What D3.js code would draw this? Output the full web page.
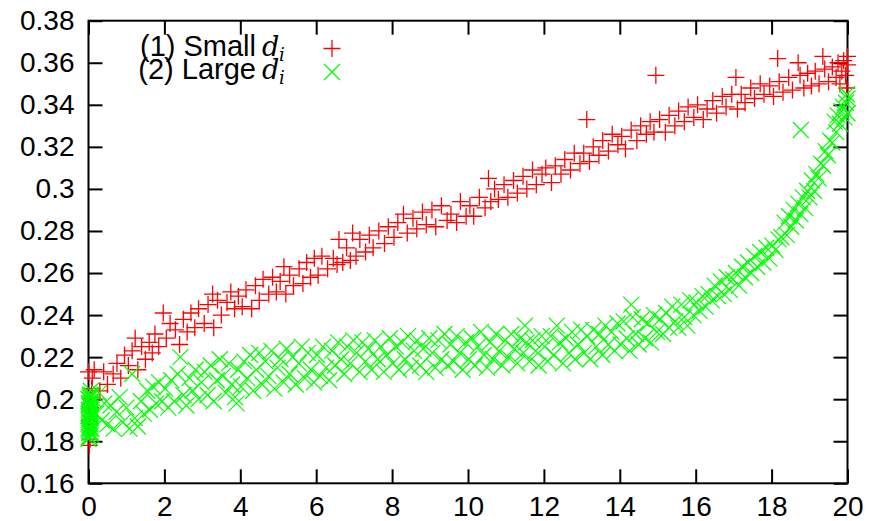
<!DOCTYPE html>
<html>
<head>
<meta charset="utf-8">
<script src="https://cdn.jsdelivr.net/npm/d3@7"></script>
<style>
  body { margin: 0; background: #fff; }
  svg text { font-family: "Liberation Sans", Arial, Helvetica, sans-serif; }
</style>
</head>
<body>
<div id="chart"></div>
<script>
var xTicks = [0, 2, 4, 6, 8, 10, 12, 14, 16, 18, 20]
var yTicks = [0.16, 0.18, 0.2, 0.22, 0.24, 0.26, 0.28, 0.3, 0.32, 0.34, 0.36, 0.38]
var yTickLabels = ["0.16", "0.18", "0.2", "0.22", "0.24", "0.26", "0.28", "0.3", "0.32", "0.34", "0.36", "0.38"]
var seriesNames = ["(1) Small", "(2) Large"]

// (1) small d_i  -- [x, y]
var smallD = [
  [0, 0.213], [0.02, 0.178], [0.04, 0.181], [0.03, 0.19], [0.05, 0.196], [0.06, 0.2], [0.08, 0.205], [0.1, 0.21],
  [0.15, 0.214], [0.3, 0.204], [0.4, 0.213], [0.5, 0.207], [0.65, 0.212], [0.75, 0.217], [0.85, 0.21], [0.95, 0.221],
  [1.05, 0.216], [1.15, 0.223], [1.23, 0.229], [1.3, 0.214], [1.4, 0.225], [1.5, 0.219], [1.6, 0.227], [1.68, 0.222], [1.75, 0.231], [1.85, 0.225], [1.97, 0.241],
  [2.05, 0.229], [2.15, 0.236], [2.29, 0.233], [2.4, 0.226], [2.5, 0.238], [2.6, 0.232], [2.7, 0.241], [2.8, 0.234], [2.9, 0.243],
  [3.05, 0.236], [3.15, 0.245], [3.27, 0.25], [3.3, 0.234], [3.4, 0.247], [3.5, 0.24], [3.65, 0.246], [3.75, 0.251], [3.85, 0.243], [3.95, 0.249],
  [4.05, 0.244], [4.15, 0.252], [4.3, 0.243], [4.4, 0.254], [4.5, 0.247], [4.6, 0.257], [4.75, 0.25], [4.85, 0.258], [4.95, 0.251],
  [5.05, 0.256], [5.15, 0.263], [5.2, 0.25], [5.3, 0.259], [5.4, 0.254], [5.55, 0.262], [5.65, 0.255], [5.75, 0.265], [5.85, 0.258], [5.95, 0.267],
  [6.05, 0.259], [6.15, 0.268], [6.3, 0.262], [6.45, 0.267], [6.55, 0.264], [6.6, 0.276], [6.7, 0.265], [6.8, 0.272], [6.9, 0.266], [6.96, 0.279],
  [7.05, 0.268], [7.15, 0.276], [7.3, 0.27], [7.4, 0.278], [7.5, 0.272], [7.65, 0.28], [7.8, 0.274], [7.9, 0.282],
  [8.05, 0.277], [8.15, 0.284], [8.3, 0.288], [8.4, 0.279], [8.55, 0.286], [8.65, 0.281], [8.8, 0.289], [8.9, 0.283],
  [9.05, 0.29], [9.15, 0.282], [9.3, 0.292], [9.45, 0.285], [9.55, 0.288], [9.7, 0.284], [9.8, 0.294], [9.95, 0.287],
  [10.05, 0.292], [10.15, 0.287], [10.3, 0.296], [10.45, 0.291], [10.54, 0.305], [10.6, 0.294], [10.7, 0.3], [10.8, 0.295], [10.95, 0.302],
  [11.05, 0.296], [11.2, 0.304], [11.3, 0.298], [11.45, 0.306], [11.55, 0.3], [11.7, 0.309], [11.8, 0.302], [11.95, 0.307],
  [12.05, 0.31], [12.2, 0.303], [12.3, 0.311], [12.45, 0.307], [12.55, 0.314], [12.7, 0.309], [12.8, 0.317], [12.95, 0.312],
  [13.05, 0.317], [13.13, 0.333], [13.2, 0.313], [13.3, 0.32], [13.45, 0.316], [13.55, 0.323], [13.7, 0.318], [13.8, 0.326], [13.95, 0.321],
  [14.05, 0.325], [14.15, 0.319], [14.3, 0.328], [14.45, 0.323], [14.55, 0.33], [14.7, 0.326], [14.8, 0.332], [14.9, 0.327], [14.95, 0.354],
  [15.05, 0.333], [15.2, 0.327], [15.3, 0.335], [15.45, 0.33], [15.55, 0.337], [15.7, 0.332], [15.8, 0.339], [15.95, 0.334],
  [16.05, 0.34], [16.2, 0.333], [16.3, 0.338], [16.45, 0.342], [16.55, 0.336], [16.7, 0.344], [16.8, 0.339], [16.95, 0.345], [17.06, 0.353],
  [17.1, 0.338], [17.2, 0.345], [17.3, 0.341], [17.45, 0.348], [17.55, 0.343], [17.7, 0.35], [17.8, 0.345], [17.95, 0.349],
  [18.05, 0.344], [18.16, 0.362], [18.2, 0.351], [18.3, 0.346], [18.45, 0.353], [18.55, 0.347], [18.7, 0.36], [18.75, 0.354], [18.85, 0.348], [18.95, 0.355],
  [19.05, 0.349], [19.15, 0.356], [19.25, 0.35], [19.35, 0.363], [19.4, 0.357], [19.5, 0.351], [19.6, 0.358], [19.7, 0.353], [19.75, 0.36],
  [19.8, 0.35], [19.85, 0.356], [19.9, 0.361], [19.95, 0.354], [19.98, 0.348], [20, 0.359], [20, 0.363]
]

// (2) large d_i  -- [x, y]
var largeD = [
  [0, 0.181], [0.01, 0.185], [0.02, 0.189], [0.03, 0.193], [0.04, 0.197], [0.05, 0.201], [0.06, 0.204], [0.07, 0.183],
  [0.01, 0.195], [0.03, 0.187], [0.05, 0.191], [0.06, 0.199], [0.08, 0.202], [0.02, 0.184], [0.07, 0.194],
  [0, 0.186], [0.01, 0.19], [0.02, 0.194], [0.03, 0.198], [0.04, 0.202], [0, 0.2], [0.01, 0.182], [0.02, 0.197],
  [0.03, 0.182], [0.04, 0.186], [0.05, 0.188], [0.06, 0.192], [0.07, 0.198], [0.08, 0.186], [0.04, 0.192], [0.02, 0.2],
  [0.05, 0.184], [0.06, 0.196], [0.03, 0.201], [0, 0.192], [0.01, 0.198],
  [0.12, 0.2], [0.2, 0.193], [0.28, 0.203], [0.35, 0.19], [0.42, 0.198], [0.5, 0.188], [0.58, 0.197], [0.66, 0.186], [0.74, 0.194], [0.82, 0.201], [0.9, 0.189],
  [1.0, 0.196], [1.08, 0.186], [1.15, 0.212], [1.22, 0.191], [1.3, 0.187], [1.38, 0.199], [1.46, 0.193], [1.55, 0.204], [1.62, 0.195], [1.7, 0.206], [1.78, 0.198], [1.86, 0.208], [1.94, 0.199],
  [2.02, 0.205], [2.1, 0.196], [2.18, 0.209], [2.26, 0.199], [2.35, 0.212], [2.42, 0.22], [2.5, 0.202], [2.58, 0.197], [2.66, 0.21], [2.74, 0.204], [2.82, 0.214], [2.9, 0.2], [2.98, 0.208],
  [3.06, 0.213], [3.14, 0.202], [3.22, 0.216], [3.3, 0.199], [3.38, 0.209], [3.46, 0.219], [3.54, 0.211], [3.62, 0.203], [3.7, 0.217], [3.78, 0.207], [3.86, 0.201], [3.9, 0.198], [3.94, 0.214],
  [4.02, 0.206], [4.1, 0.218], [4.18, 0.21], [4.26, 0.221], [4.34, 0.204], [4.42, 0.214], [4.5, 0.222], [4.58, 0.207], [4.66, 0.218], [4.74, 0.211], [4.82, 0.223], [4.9, 0.205], [4.98, 0.215],
  [5.06, 0.219], [5.14, 0.208], [5.22, 0.224], [5.3, 0.212], [5.38, 0.22], [5.46, 0.207], [5.54, 0.217], [5.62, 0.225], [5.7, 0.21], [5.78, 0.222], [5.86, 0.214], [5.94, 0.208],
  [6.02, 0.221], [6.1, 0.211], [6.18, 0.225], [6.26, 0.215], [6.34, 0.209], [6.42, 0.223], [6.5, 0.216], [6.58, 0.227], [6.66, 0.219], [6.74, 0.212], [6.82, 0.225], [6.9, 0.217], [6.98, 0.228],
  [7.06, 0.222], [7.14, 0.213], [7.22, 0.227], [7.3, 0.218], [7.38, 0.224], [7.46, 0.214], [7.54, 0.228], [7.62, 0.219], [7.7, 0.225], [7.78, 0.213], [7.86, 0.221], [7.94, 0.229],
  [8.02, 0.217], [8.1, 0.225], [8.18, 0.214], [8.26, 0.227], [8.34, 0.219], [8.42, 0.23], [8.5, 0.215], [8.58, 0.223], [8.66, 0.228], [8.74, 0.216], [8.82, 0.224], [8.9, 0.213], [8.98, 0.229],
  [9.06, 0.222], [9.14, 0.215], [9.22, 0.228], [9.3, 0.219], [9.38, 0.231], [9.46, 0.216], [9.54, 0.226], [9.62, 0.218], [9.7, 0.23], [9.78, 0.222], [9.86, 0.214], [9.94, 0.227],
  [10.02, 0.219], [10.1, 0.229], [10.18, 0.216], [10.26, 0.225], [10.34, 0.232], [10.42, 0.221], [10.5, 0.215], [10.58, 0.227], [10.66, 0.219], [10.74, 0.231], [10.82, 0.223], [10.9, 0.216], [10.98, 0.228],
  [11.06, 0.22], [11.14, 0.231], [11.22, 0.224], [11.3, 0.217], [11.38, 0.229], [11.46, 0.222], [11.5, 0.235], [11.54, 0.227], [11.62, 0.218], [11.7, 0.228], [11.78, 0.223], [11.86, 0.216], [11.94, 0.23],
  [12.02, 0.225], [12.1, 0.218], [12.18, 0.23], [12.26, 0.221], [12.34, 0.235], [12.42, 0.227], [12.5, 0.217], [12.58, 0.229], [12.66, 0.222], [12.74, 0.232], [12.82, 0.219], [12.9, 0.226], [12.98, 0.233],
  [13.06, 0.222], [13.14, 0.23], [13.22, 0.219], [13.3, 0.233], [13.38, 0.225], [13.46, 0.231], [13.54, 0.221], [13.62, 0.235], [13.7, 0.226], [13.78, 0.232], [13.86, 0.223], [13.94, 0.236],
  [14.02, 0.226], [14.1, 0.237], [14.18, 0.229], [14.26, 0.223], [14.3, 0.245], [14.34, 0.239], [14.42, 0.231], [14.5, 0.226], [14.58, 0.238], [14.66, 0.229], [14.74, 0.236], [14.82, 0.227], [14.9, 0.24], [14.98, 0.232],
  [15.06, 0.238], [15.14, 0.231], [15.22, 0.241], [15.3, 0.234], [15.38, 0.244], [15.46, 0.237], [15.54, 0.234], [15.62, 0.245], [15.7, 0.239], [15.78, 0.235], [15.86, 0.247], [15.94, 0.24],
  [16.02, 0.246], [16.1, 0.242], [16.18, 0.249], [16.26, 0.244], [16.34, 0.25], [16.42, 0.247], [16.5, 0.254], [16.58, 0.249], [16.66, 0.256], [16.74, 0.25], [16.82, 0.258], [16.9, 0.252], [16.98, 0.257],
  [17.06, 0.26], [17.14, 0.254], [17.22, 0.263], [17.3, 0.258], [17.38, 0.265], [17.46, 0.26], [17.54, 0.268], [17.62, 0.263], [17.7, 0.27], [17.78, 0.265], [17.86, 0.272], [17.94, 0.267],
  [18.02, 0.273], [18.1, 0.271], [18.18, 0.276], [18.26, 0.277], [18.34, 0.284], [18.4, 0.278], [18.46, 0.287], [18.52, 0.282], [18.58, 0.29], [18.64, 0.285], [18.7, 0.293], [18.76, 0.288], [18.77, 0.328], [18.82, 0.296], [18.88, 0.291], [18.94, 0.299],
  [19.0, 0.296], [19.06, 0.304], [19.12, 0.299], [19.18, 0.307], [19.24, 0.305], [19.3, 0.312], [19.36, 0.311], [19.42, 0.318], [19.48, 0.316], [19.54, 0.323], [19.6, 0.322], [19.66, 0.332], [19.7, 0.327],
  [19.74, 0.335], [19.8, 0.331], [19.84, 0.337], [19.88, 0.339], [19.92, 0.334], [19.96, 0.341], [19.98, 0.345], [20, 0.343], [20, 0.336]
]

var width = 869, height = 521
var margin = {top: 20.7, right: 21.5, bottom: 37.7, left: 88.5}

var svg = d3.select("#chart").append("svg")
    .attr("width", width)
    .attr("height", height)

var x = d3.scaleLinear().domain([0, 20]).range([margin.left, width - margin.right])
var y = d3.scaleLinear().domain([0.16, 0.38]).range([height - margin.bottom, margin.top])

var red = "#ff0000", green = "#00ff00"
var ms = 8.5

function plusPath(cx, cy) {
  return "M" + (cx - ms) + "," + cy + "H" + (cx + ms) + "M" + cx + "," + (cy - ms) + "V" + (cy + ms)
}
function crossPath(cx, cy) {
  var s = ms - 0.5
  return "M" + (cx - s) + "," + (cy - s) + "L" + (cx + s) + "," + (cy + s) +
         "M" + (cx - s) + "," + (cy + s) + "L" + (cx + s) + "," + (cy - s)
}

// frame and axes first, points go on top (like gnuplot)
svg.append("rect")
    .attr("x", x.range()[0])
    .attr("y", y.range()[1])
    .attr("width", x.range()[1] - x.range()[0])
    .attr("height", y.range()[0] - y.range()[1])
    .attr("fill", "none")
    .attr("stroke", "#000")
    .attr("stroke-width", 2)

var tk = 14
var fs = "28px"
svg.append("g")
    .attr("transform", "translate(0," + y.range()[0] + ")")
    .call(d3.axisBottom(x).tickValues(xTicks).tickSizeInner(-tk).tickSizeOuter(0).tickPadding(13))
svg.append("g")
    .attr("transform", "translate(0," + y.range()[1] + ")")
    .call(d3.axisTop(x).tickValues(xTicks).tickSizeInner(-tk).tickSizeOuter(0).tickFormat(""))
svg.append("g")
    .attr("transform", "translate(" + x.range()[0] + ",0)")
    .call(d3.axisLeft(y).tickValues(yTicks).tickSizeInner(-tk).tickSizeOuter(0).tickPadding(14)
      .tickFormat(function(d, i) { return yTickLabels[i] }))
svg.append("g")
    .attr("transform", "translate(" + x.range()[1] + ",0)")
    .call(d3.axisRight(y).tickValues(yTicks).tickSizeInner(-tk).tickSizeOuter(0).tickFormat(""))

svg.selectAll(".domain").remove()
svg.selectAll(".tick line").attr("stroke", "#000").attr("stroke-width", 2)
svg.selectAll(".tick text")
    .attr("fill", "#000")
    .style("font-size", fs)
    .style("font-family", "'Liberation Sans', Arial, sans-serif")

// points
var plot = svg.append("g")
plot.selectAll("path.small")
    .data(smallD)
  .enter().append("path")
    .attr("class", "small")
    .attr("d", function(d) { return plusPath(x(d[0]), y(d[1])) })
    .attr("stroke", red)
    .attr("stroke-width", 1.3)
    .attr("fill", "none")

plot.selectAll("path.large")
    .data(largeD)
  .enter().append("path")
    .attr("class", "large")
    .attr("d", function(d) { return crossPath(x(d[0]), y(d[1])) })
    .attr("stroke", green)
    .attr("stroke-width", 1.2)
    .attr("fill", "none")

// legend
var legend = svg.append("g")
var legY = [56, 79]
var markY = [48.5, 72]
seriesNames.forEach(function(name, i) {
  legend.append("text")
      .attr("x", 256)
      .attr("y", legY[i])
      .attr("text-anchor", "end")
      .style("font-size", "29px")
      .attr("fill", "#000")
      .text(name)
  legend.append("text")
      .attr("x", 262)
      .attr("y", legY[i])
      .style("font-family", "'DejaVu Serif', 'Liberation Serif', serif")
      .style("font-style", "italic")
      .style("font-size", "27px")
      .attr("fill", "#000")
      .text("d")
  legend.append("text")
      .attr("x", 279)
      .attr("y", legY[i] + 5)
      .style("font-family", "'DejaVu Serif', 'Liberation Serif', serif")
      .style("font-style", "italic")
      .style("font-size", "18px")
      .attr("fill", "#000")
      .text("i")
  legend.append("path")
      .attr("d", i === 0 ? plusPath(332, markY[i]) : crossPath(332, markY[i]))
      .attr("stroke", i === 0 ? red : green)
      .attr("stroke-width", 1.3)
      .attr("fill", "none")
})
</script>
</body>
</html>
